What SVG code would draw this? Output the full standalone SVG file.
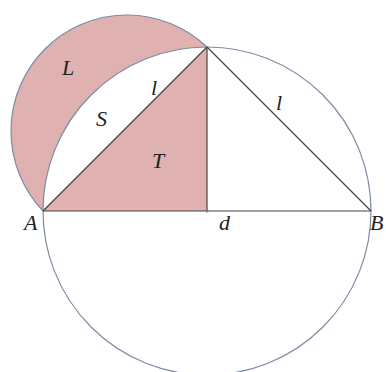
<svg xmlns="http://www.w3.org/2000/svg" width="386" height="372" viewBox="0 0 386 372">
<style>
.fill{fill:#dfb1b1;stroke:none}
.arc{fill:none;stroke:#7d8ba6;stroke-width:1.2}
.ln{fill:none;stroke:#444;stroke-width:1.2}
.lb{font-family:'Liberation Serif','Times New Roman','DejaVu Serif',serif;font-style:italic;font-size:22px;fill:#222}
</style>
<rect width="386" height="372" fill="#fff"/>
<g id="lune">
<path class="fill" d="M43,211 A116,116 0 0 1 207,47 A164,164 0 0 0 43,211 Z"/>
</g>
<g id="triangleT">
<path class="fill" d="M43,211 L207,47 L207,211 Z"/>
</g>
<g id="circle">
<circle class="arc" cx="207" cy="211" r="164"/>
<path class="arc" d="M43,211 A116,116 0 0 1 207,47"/>
</g>
<g id="connectors">
<line class="ln" x1="43" y1="211" x2="371" y2="211"/>
<line class="ln" x1="43" y1="211" x2="207" y2="47"/>
<line class="ln" x1="207" y1="47" x2="371" y2="211"/>
<line class="ln" x1="207" y1="47" x2="207" y2="211"/>
<circle cx="207" cy="211" r="1.5" fill="#6a7fa0"/>
</g>
<g id="labels" class="lb">
<text x="62" y="75">L</text>
<text x="151" y="95">l</text>
<text x="96" y="126">S</text>
<text x="152" y="168">T</text>
<text x="276" y="110">l</text>
<text x="24" y="230">A</text>
<text x="219" y="230">d</text>
<text x="370" y="230">B</text>
</g>
</svg>
